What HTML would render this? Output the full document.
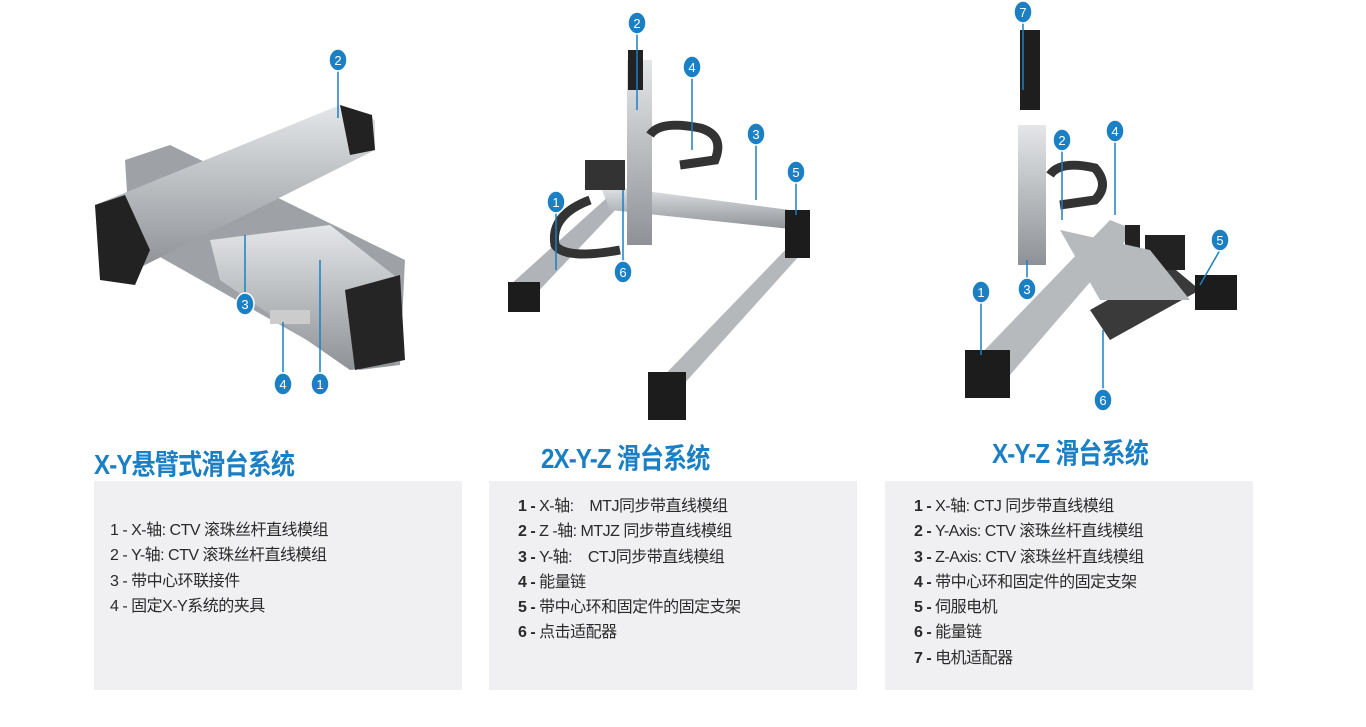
<!DOCTYPE html>
<html><head><meta charset="utf-8"><style>
body{margin:0;width:1366px;height:727px;background:#fff;position:relative;overflow:hidden;font-family:"Liberation Sans","Noto Sans CJK SC",sans-serif}
.box{position:absolute;top:481px;width:368px;height:209px;background:#f0f0f2}
.t{position:absolute;color:#1b7fc4;font-weight:bold;font-size:28px;font-family:"Liberation Sans","Noto Sans CJK SC",sans-serif;transform:scaleX(0.86);transform-origin:left top;white-space:nowrap;letter-spacing:-1px}
.l{position:absolute;font-size:16px;color:#2a2a2a;line-height:25.3px;white-space:nowrap;letter-spacing:-0.5px}
.l b{font-weight:bold}
svg{position:absolute;left:0;top:0}
</style></head><body>
<svg width="1366" height="440">
<defs><linearGradient id="g" x1="0" y1="0" x2="0" y2="1"><stop offset="0" stop-color="#e4e6e8"/><stop offset="1" stop-color="#8e9296"/></linearGradient></defs>
<polygon points="125,160 170,145 405,260 400,365 360,370 130,240" fill="#9ea2a6"/>
<polygon points="95,205 340,105 375,120 375,150 135,270 105,270" fill="url(#g)"/>
<polygon points="95,205 125,195 150,250 135,285 100,280" fill="#222"/>
<polygon points="340,105 372,115 375,150 350,155" fill="#222"/>
<polygon points="210,240 330,225 400,280 395,365 350,370 220,280" fill="url(#g)"/>
<polygon points="345,290 400,275 405,360 355,370" fill="#252525"/>
<rect x="270" y="310" width="40" height="14" fill="#ccc"/>
<polygon points="510,285 610,195 620,205 530,300" fill="#b0b4b8"/>
<rect x="508" y="282" width="32" height="30" fill="#1c1c1c"/>
<polygon points="650,390 790,245 800,255 665,405" fill="#b5b8bb"/>
<rect x="648" y="372" width="38" height="48" fill="#1c1c1c"/>
<polygon points="600,185 790,210 800,230 610,210" fill="url(#g)"/>
<rect x="785" y="210" width="25" height="48" fill="#1c1c1c"/>
<rect x="627" y="60" width="25" height="185" fill="url(#g)"/>
<rect x="628" y="50" width="15" height="40" fill="#222"/>
<path d="M650 135 Q660 120 700 128 Q725 135 715 160 L680 165" stroke="#333" stroke-width="9" fill="none"/>
<path d="M590 200 Q550 215 555 245 Q565 260 620 250" stroke="#333" stroke-width="9" fill="none"/>
<rect x="585" y="160" width="40" height="30" fill="#333"/>
<rect x="1020" y="30" width="20" height="80" fill="#1e1e1e"/>
<rect x="1018" y="125" width="28" height="140" fill="url(#g)"/>
<path d="M1050 175 Q1060 160 1095 168 Q1110 185 1095 200 L1060 205" stroke="#333" stroke-width="9" fill="none"/>
<polygon points="975,360 1110,220 1135,230 1010,375" fill="#b7babd"/>
<polygon points="1090,310 1170,265 1200,290 1110,340" fill="#3a3a3a"/>
<rect x="965" y="350" width="45" height="48" fill="#1c1c1c"/>
<rect x="1125" y="225" width="15" height="40" fill="#222"/>
<rect x="1145" y="235" width="40" height="35" fill="#222"/>
<rect x="1195" y="275" width="42" height="35" fill="#1c1c1c"/>
<polygon points="1060,230 1150,250 1190,300 1100,300" fill="#b7babd"/>
<g fill="#1b7fc4" font-size="13" font-family="Liberation Sans" text-anchor="middle">
<g stroke="#1b7fc4" stroke-width="1.5">
<line x1="338" y1="68" x2="338" y2="118"/><line x1="245" y1="292" x2="245" y2="235"/><line x1="283" y1="372" x2="283" y2="322"/><line x1="320" y1="372" x2="320" y2="260"/>
<line x1="637" y1="32" x2="637" y2="110"/><line x1="692" y1="77" x2="692" y2="150"/><line x1="756" y1="143" x2="756" y2="200"/><line x1="796" y1="182" x2="796" y2="215"/><line x1="556" y1="210" x2="556" y2="270"/><line x1="623" y1="262" x2="623" y2="190"/>
<line x1="1023" y1="22" x2="1023" y2="90"/><line x1="1062" y1="150" x2="1062" y2="220"/><line x1="1115" y1="140" x2="1115" y2="215"/><line x1="1220" y1="250" x2="1200" y2="285"/><line x1="981" y1="302" x2="981" y2="355"/><line x1="1027" y1="278" x2="1027" y2="260"/><line x1="1103" y1="390" x2="1103" y2="330"/>
</g>
<g stroke="#fff" stroke-width="1.5">
<ellipse cx="338" cy="60" rx="9" ry="11"/><ellipse cx="245" cy="304" rx="9" ry="11"/><ellipse cx="283" cy="384" rx="9" ry="11"/><ellipse cx="320" cy="384" rx="9" ry="11"/>
<ellipse cx="637" cy="23" rx="9" ry="11"/><ellipse cx="692" cy="67" rx="9" ry="11"/><ellipse cx="756" cy="134" rx="9" ry="11"/><ellipse cx="796" cy="172" rx="9" ry="11"/><ellipse cx="556" cy="202" rx="9" ry="11"/><ellipse cx="623" cy="272" rx="9" ry="11"/>
<ellipse cx="1023" cy="12" rx="9" ry="11"/><ellipse cx="1062" cy="140" rx="9" ry="11"/><ellipse cx="1115" cy="131" rx="9" ry="11"/><ellipse cx="1220" cy="240" rx="9" ry="11"/><ellipse cx="981" cy="292" rx="9" ry="11"/><ellipse cx="1027" cy="289" rx="9" ry="11"/><ellipse cx="1103" cy="400" rx="9" ry="11"/>
</g>
<g fill="#fff">
<text x="338" y="65">2</text><text x="245" y="309">3</text><text x="283" y="389">4</text><text x="320" y="389">1</text>
<text x="637" y="28">2</text><text x="692" y="72">4</text><text x="756" y="139">3</text><text x="796" y="177">5</text><text x="556" y="207">1</text><text x="623" y="277">6</text>
<text x="1023" y="17">7</text><text x="1062" y="145">2</text><text x="1115" y="136">4</text><text x="1220" y="245">5</text><text x="981" y="297">1</text><text x="1027" y="294">3</text><text x="1103" y="405">6</text>
</g></g>
</svg>
<div class="t" style="left:94px;top:443px">X-Y悬臂式滑台系统</div>
<div class="t" style="left:541px;top:437px">2X-Y-Z 滑台系统</div>
<div class="t" style="left:992px;top:432px">X-Y-Z 滑台系统</div>
<div class="box" style="left:94px"></div>
<div class="box" style="left:489px"></div>
<div class="box" style="left:885px"></div>
<div class="l" style="left:110px;top:518px">1 - X-轴: CTV 滚珠丝杆直线模组<br>2 - Y-轴: CTV 滚珠丝杆直线模组<br>3 - 带中心环联接件<br>4 - 固定X-Y系统的夹具</div>
<div class="l" style="left:518px;top:494px"><b>1 -</b> X-轴:&nbsp;&nbsp;&nbsp; MTJ同步带直线模组<br><b>2 -</b> Z -轴: MTJZ 同步带直线模组<br><b>3 -</b> Y-轴:&nbsp;&nbsp;&nbsp; CTJ同步带直线模组<br><b>4 -</b> 能量链<br><b>5 -</b> 带中心环和固定件的固定支架<br><b>6 -</b> 点击适配器</div>
<div class="l" style="left:914px;top:494px"><b>1 -</b> X-轴: CTJ 同步带直线模组<br><b>2 -</b> Y-Axis: CTV 滚珠丝杆直线模组<br><b>3 -</b> Z-Axis: CTV 滚珠丝杆直线模组<br><b>4 -</b> 带中心环和固定件的固定支架<br><b>5 -</b> 伺服电机<br><b>6 -</b> 能量链<br><b>7 -</b> 电机适配器</div>
</body></html>
